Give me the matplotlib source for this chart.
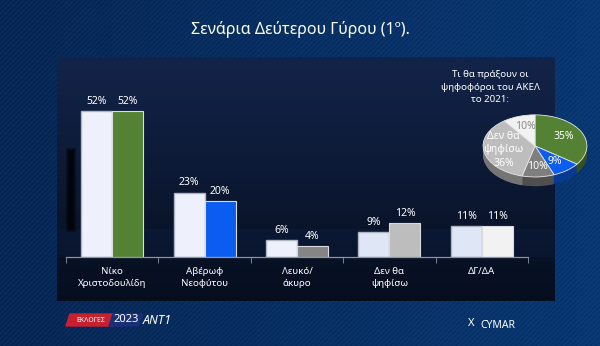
import numpy as np
import matplotlib
matplotlib.use("Agg")
import matplotlib.pyplot as plt
from matplotlib.patches import Rectangle, Polygon
from matplotlib.colors import to_rgb

plt.rcParams['font.family'] = ['Noto Sans', 'DejaVu Sans']

# δεδομένα
categories = ['Νίκο\nΧριστοδουλίδη', 'Αβέρωφ\nΝεοφύτου', 'Λευκό/\nάκυρο', 'Δεν θα\nψηφίσω', 'ΔΓ/ΔΑ']
total_vals = [52, 23, 6, 9, 11]
akel_vals = [52, 20, 4, 12, 11]
total_colors = ['#eef1fb', '#eef1fb', '#eef1fb', '#dfe6f6', '#dfe6f6']
akel_colors = ['#548235', '#0b5cf0', '#858585', '#bdbdbd', '#f2f2f2']

pie_vals = [35, 9, 10, 36, 10]
pie_labels = ['35%', '9%', '10%', 'Δεν θα\nψηφίσω\n36%', '10%']
pie_colors = ['#548235', '#0b5cf0', '#7f7f7f', '#bdbdbd', '#f2f2f2']
pie_text_colors = ['white', 'white', 'white', 'white', '#8a8a8a']

W, H = 600, 346
fig = plt.figure(figsize=(6, 3.46), dpi=100)


def px_axes(x0, y0, x1, y1, **kw):
    # άξονες σε pixel (πάνω αριστερά -> κάτω δεξιά)
    return fig.add_axes([x0 / W, 1 - y1 / H, (x1 - x0) / W, (y1 - y0) / H], **kw)


# φόντο με διαγώνιες γραμμές
bg = px_axes(0, 0, W, H)
yy, xx = np.mgrid[0:H, 0:W]
t = xx / W
base = np.array(to_rgb('#0a2a58'))[None, None, :] * (1 - t[..., None]) + \
    np.array(to_rgb('#0c3a74'))[None, None, :] * t[..., None]
stripe = ((xx + yy) % 5 < 2)[..., None] * 0.025
img = np.clip(base - stripe, 0, 1)
bg.imshow(img, extent=(0, W, H, 0), aspect='auto')
bg.axis('off')

# σκούρο πάνελ
panel = px_axes(57, 57, 555, 301)
g = np.linspace(0, 1, 244)[:, None, None]
top = np.array(to_rgb('#13244a'))
bot = np.array(to_rgb('#060e1e'))
pimg = top * (1 - g) + bot * g
# λίγο πιο ανοιχτή ζώνη κοντά στη βάση
band = (np.arange(244) > 171) & (np.arange(244) < 200)
pimg[band] = pimg[band] + np.array([0.005, 0.015, 0.035])
panel.imshow(np.clip(pimg, 0, 1), extent=(0, 1, 0, 1), aspect='auto')
panel.axis('off')

# σκιά αριστερά
sh = px_axes(0, 0, W, H)
sh.set_xlim(0, W)
sh.set_ylim(H, 0)
sh.axis('off')
for k in range(4):
    sh.add_patch(Rectangle((66 + k, 148 + k), 10 - 2 * k, 84 - 2 * k, color='black',
                           alpha=0.3, linewidth=0))

# τίτλος
fig.text(300 / W, 1 - 30 / H, 'Σενάρια Δεύτερου Γύρου (1º).', color='white',
         fontsize=11.5, ha='center', va='center')

# ραβδόγραμμα
ax = px_axes(66, 89, 528, 257)
ax.set_facecolor('none')
x = np.arange(len(categories))
bw = 0.335
b1 = ax.bar(x - bw / 2, total_vals, bw, color=total_colors, edgecolor='#aeb4c2', linewidth=1.0)
b2 = ax.bar(x + bw / 2, akel_vals, bw, color=akel_colors, edgecolor='#d8dbe2', linewidth=0.8)
for bars, vals in ((b1, total_vals), (b2, akel_vals)):
    for b, v in zip(bars, vals):
        ax.text(b.get_x() + b.get_width() / 2, v + 1.5, f'{v}%', color='white',
                fontsize=7.5, ha='center', va='bottom')
ax.set_xlim(-0.5, len(categories) - 0.5)
ax.set_ylim(0, 60)
ax.set_yticks([])
ax.set_xticks(x)
ax.set_xticklabels(categories, color='white', fontsize=7, linespacing=1.5)
ax.tick_params(axis='x', length=0, pad=7)
ax.set_xticks(np.arange(len(categories) + 1) - 0.5, minor=True)
ax.tick_params(axis='x', which='minor', length=4, color='#8d94a3', direction='out')
for s in ('top', 'left', 'right'):
    ax.spines[s].set_visible(False)
ax.spines['bottom'].set_color('#8d94a3')
ax.spines['bottom'].set_linewidth(0.9)

# πίτα (ψευδο-3D)
pax = px_axes(481, 113, 589, 190)
pax.set_facecolor('none')
depth = np.linspace(0.30, 0.0, 12)
for d in depth[:-1]:
    dark = [tuple(np.array(to_rgb(c)) * 0.62) for c in pie_colors]
    pax.pie(pie_vals, colors=dark, startangle=90, counterclock=False, center=(0, -d),
            wedgeprops=dict(linewidth=0), frame=True)
wedges, _ = pax.pie(pie_vals, colors=pie_colors, startangle=90, counterclock=False,
                    wedgeprops=dict(edgecolor='#e6e6e6', linewidth=0.6), frame=True)
for w, lab, tc in zip(wedges, pie_labels, pie_text_colors):
    ang = np.deg2rad((w.theta1 + w.theta2) / 2)
    pax.text(0.62 * np.cos(ang), 0.65 * np.sin(ang), lab, color=tc, fontsize=7.5,
             ha='center', va='center', linespacing=1.3, clip_on=False, zorder=5)
pax.set_aspect('auto')
pax.set_xlim(-1.04, 1.04)
pax.set_ylim(-1.42, 1.06)
pax.axis('off')

fig.text(490 / W, 1 - 87 / H, 'Τι θα πράξουν οι\nψηφοφόροι του ΑΚΕΛ\nτο 2021:', color='white',
         fontsize=7, ha='center', va='center', linespacing=1.45)

# λογότυπα κάτω
lg = px_axes(0, 0, W, H)
lg.set_xlim(0, W)
lg.set_ylim(H, 0)
lg.axis('off')
lg.add_patch(Polygon([(70, 314), (117, 314), (113, 326), (66, 326)], color='#c8202e'))
lg.add_patch(Polygon([(113, 314), (142, 314), (138, 326), (109, 326)], color='#1a2f7a'))
lg.text(91, 320, 'ΕΚΛΟΓΕΣ', color='white', fontsize=5, ha='center', va='center')
lg.text(126, 320, '2023', color='white', fontsize=8, ha='center', va='center', weight='bold')
lg.text(157, 320, 'ANT1', color='white', fontsize=9, ha='center', va='center',
        weight='bold', style='italic')
lg.text(471, 323, 'X', color='white', fontsize=8, ha='center', va='center', weight='bold')
lg.text(498, 325, 'CYMAR', color='white', fontsize=7.5, ha='center', va='center', weight='bold')

fig.savefig('out.png', dpi=100)
